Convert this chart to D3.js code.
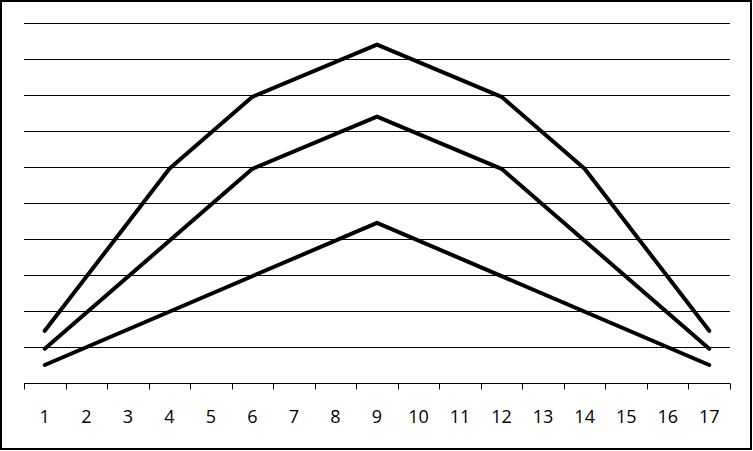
<!DOCTYPE html>
<html><head><meta charset="utf-8">
<script src="https://cdn.jsdelivr.net/npm/d3@7"></script>
<style>html,body{margin:0;padding:0;background:#fff;}</style>
</head><body>
<svg id="chart" width="753" height="451"></svg>
<script>
const categories = ["1","2","3","4","5","6","7","8","9","10","11","12","13","14","15","16","17"];
// null = no data point (line connects neighbouring points)
const seriesTop    = [1.45,null,null,5.95,null,7.95,null,null,9.4,null,null,7.95,null,5.95,null,null,1.45];
const seriesMiddle = [0.95,null,null,null,null,5.95,null,null,7.4,null,null,5.95,null,null,null,null,0.95];
const seriesBottom = [0.5,null,null,null,null,null,null,null,4.45,null,null,null,null,null,null,null,0.5];
const yTicks = [0,1,2,3,4,5,6,7,8,9,10];

const svg = d3.select("#chart");
const W = 753, H = 451;
const m = {left:24, right:23, top:23, bottom:68};

svg.append("rect").attr("x",1).attr("y",1).attr("width",W-3).attr("height",H-3)
  .attr("fill","#fff").attr("stroke","#000").attr("stroke-width",2);

const x = d3.scaleBand().domain(categories).range([m.left, W-m.right]).padding(0);
const y = d3.scaleLinear().domain([0,10]).range([H-m.bottom, m.top]);

// gridlines
svg.append("g").selectAll("line").data(yTicks.filter(d=>d>0)).join("line")
  .attr("x1",m.left).attr("x2",W-m.right)
  .attr("y1",d=>Math.round(y(d))+0.5).attr("y2",d=>Math.round(y(d))+0.5)
  .attr("stroke","#000").attr("stroke-width",1);

// x axis
const axisY = Math.round(y(0))+0.5;
svg.append("line").attr("x1",m.left).attr("x2",W-m.right).attr("y1",axisY).attr("y2",axisY)
  .attr("stroke","#000").attr("stroke-width",1);
const tickPos = categories.map(c=>x(c)).concat([x(categories[categories.length-1])+x.bandwidth()]);
svg.append("g").selectAll("line").data(tickPos).join("line")
  .attr("x1",d=>Math.round(d)+0.5).attr("x2",d=>Math.round(d)+0.5)
  .attr("y1",axisY).attr("y2",axisY+6)
  .attr("stroke","#000").attr("stroke-width",1);
svg.append("g").selectAll("text").data(categories).join("text")
  .attr("x",d=>x(d)+x.bandwidth()/2).attr("y",423)
  .attr("text-anchor","middle")
  .attr("font-family","'Open Sans', sans-serif").attr("font-size",18)
  .attr("fill","#000").text(d=>d);

const line = d3.line().x(d=>x(d.c)+x.bandwidth()/2).y(d=>y(d.v));
[seriesTop, seriesMiddle, seriesBottom].forEach(s=>{
  const pts = s.map((v,i)=>({c:categories[i], v})).filter(d=>d.v!==null);
  svg.append("path").datum(pts).attr("d",line)
    .attr("fill","none").attr("stroke","#000").attr("stroke-width",4)
    .attr("stroke-linejoin","round").attr("stroke-linecap","round");
});
</script>
</body></html>
